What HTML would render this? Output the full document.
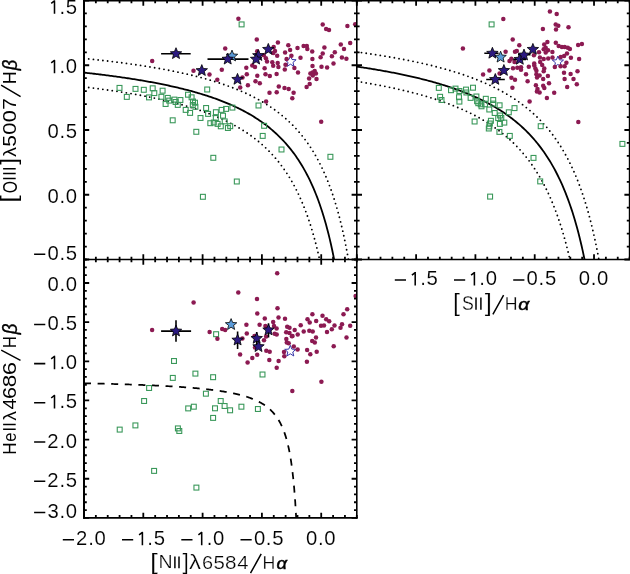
<!DOCTYPE html>
<html><head><meta charset="utf-8"><style>html,body{margin:0;padding:0;background:#fff;overflow:hidden}svg{display:block}text{vector-effect:non-scaling-stroke}</style></head><body>
<svg width="630" height="574" viewBox="0 0 630 574"><rect width="630" height="574" fill="#fff"/><clipPath id="c1"><rect x="84" y="0.5" width="272.8" height="259"/></clipPath><clipPath id="c2"><rect x="356.8" y="0.5" width="272.8" height="259"/></clipPath><clipPath id="c3"><rect x="84" y="259.5" width="272.8" height="258.4"/></clipPath><g fill="none" stroke="#000" stroke-width="1.8" clip-path="url(#c1)"><path d="M84 72.63 L85.25 72.76 L86.51 72.9 L87.76 73.04 L89.01 73.18 L90.27 73.33 L91.52 73.47 L92.77 73.61 L94.03 73.76 L95.28 73.91 L96.53 74.06 L97.79 74.21 L99.04 74.36 L100.29 74.51 L101.55 74.66 L102.8 74.82 L104.05 74.98 L105.31 75.14 L106.56 75.29 L107.81 75.46 L109.07 75.62 L110.32 75.78 L111.57 75.95 L112.83 76.12 L114.08 76.29 L115.33 76.46 L116.58 76.63 L117.84 76.8 L119.09 76.98 L120.34 77.16 L121.6 77.34 L122.85 77.52 L124.1 77.7 L125.36 77.88 L126.61 78.07 L127.86 78.26 L129.12 78.45 L130.37 78.64 L131.62 78.83 L132.88 79.03 L134.13 79.23 L135.38 79.43 L136.64 79.63 L137.89 79.84 L139.14 80.04 L140.4 80.25 L141.65 80.46 L142.9 80.68 L144.16 80.89 L145.41 81.11 L146.66 81.33 L147.92 81.55 L149.17 81.78 L150.42 82 L151.68 82.23 L152.93 82.47 L154.18 82.7 L155.44 82.94 L156.69 83.18 L157.94 83.42 L159.2 83.67 L160.45 83.92 L161.7 84.17 L162.96 84.43 L164.21 84.68 L165.46 84.94 L166.72 85.21 L167.97 85.48 L169.22 85.75 L170.48 86.02 L171.73 86.3 L172.98 86.58 L174.23 86.86 L175.49 87.15 L176.74 87.44 L177.99 87.74 L179.25 88.03 L180.5 88.34 L181.75 88.64 L183.01 88.95 L184.26 89.27 L185.51 89.58 L186.77 89.91 L188.02 90.23 L189.27 90.57 L190.53 90.9 L191.78 91.24 L193.03 91.59 L194.29 91.94 L195.54 92.29 L196.79 92.65 L198.05 93.01 L199.3 93.38 L200.55 93.76 L201.81 94.14 L203.06 94.52 L204.31 94.91 L205.57 95.31 L206.82 95.71 L208.07 96.12 L209.33 96.54 L210.58 96.96 L211.83 97.38 L213.09 97.82 L214.34 98.26 L215.59 98.71 L216.85 99.16 L218.1 99.62 L219.35 100.09 L220.61 100.57 L221.86 101.05 L223.11 101.54 L224.37 102.04 L225.62 102.55 L226.87 103.07 L228.13 103.6 L229.38 104.13 L230.63 104.67 L231.89 105.23 L233.14 105.79 L234.39 106.36 L235.64 106.95 L236.9 107.54 L238.15 108.14 L239.4 108.76 L240.66 109.38 L241.91 110.02 L243.16 110.67 L244.42 111.33 L245.67 112.01 L246.92 112.7 L248.18 113.4 L249.43 114.11 L250.68 114.84 L251.94 115.59 L253.19 116.34 L254.44 117.12 L255.7 117.91 L256.95 118.72 L258.2 119.54 L259.46 120.38 L260.71 121.24 L261.96 122.12 L263.22 123.02 L264.47 123.93 L265.72 124.87 L266.98 125.83 L268.23 126.81 L269.48 127.82 L270.74 128.85 L271.99 129.9 L273.24 130.98 L274.5 132.08 L275.75 133.22 L277 134.38 L278.26 135.57 L279.51 136.79 L280.76 138.04 L282.02 139.33 L283.27 140.65 L284.52 142 L285.78 143.39 L287.03 144.83 L288.28 146.3 L289.54 147.81 L290.79 149.37 L292.04 150.98 L293.3 152.63 L294.55 154.33 L295.8 156.09 L297.05 157.9 L298.31 159.77 L299.56 161.69 L300.81 163.69 L302.07 165.75 L303.32 167.87 L304.57 170.08 L305.83 172.36 L307.08 174.72 L308.33 177.17 L309.59 179.71 L310.84 182.34 L312.09 185.08 L313.35 187.93 L314.6 190.89 L315.85 193.97 L317.11 197.18 L318.36 200.53 L319.61 204.02 L320.87 207.67 L322.12 211.49 L323.37 215.48 L324.63 219.67 L325.88 224.06 L327.13 228.67 L328.39 233.52 L329.64 238.63 L330.89 244.02 L332.15 249.71 L333.4 255.72 L334.65 262.09"/><path d="M84 58.43 L85.32 58.57 L86.65 58.7 L87.97 58.84 L89.3 58.98 L90.62 59.11 L91.95 59.25 L93.27 59.4 L94.59 59.54 L95.92 59.68 L97.24 59.83 L98.57 59.97 L99.89 60.12 L101.22 60.27 L102.54 60.42 L103.86 60.57 L105.19 60.73 L106.51 60.88 L107.84 61.04 L109.16 61.2 L110.49 61.36 L111.81 61.52 L113.13 61.68 L114.46 61.84 L115.78 62.01 L117.11 62.18 L118.43 62.35 L119.75 62.52 L121.08 62.69 L122.4 62.86 L123.73 63.04 L125.05 63.22 L126.38 63.4 L127.7 63.58 L129.02 63.76 L130.35 63.94 L131.67 64.13 L133 64.32 L134.32 64.51 L135.65 64.7 L136.97 64.9 L138.29 65.09 L139.62 65.29 L140.94 65.49 L142.27 65.7 L143.59 65.9 L144.92 66.11 L146.24 66.32 L147.56 66.53 L148.89 66.75 L150.21 66.96 L151.54 67.18 L152.86 67.4 L154.19 67.63 L155.51 67.85 L156.83 68.08 L158.16 68.31 L159.48 68.55 L160.81 68.79 L162.13 69.03 L163.46 69.27 L164.78 69.51 L166.1 69.76 L167.43 70.02 L168.75 70.27 L170.08 70.53 L171.4 70.79 L172.73 71.05 L174.05 71.32 L175.37 71.59 L176.7 71.86 L178.02 72.14 L179.35 72.42 L180.67 72.71 L181.99 73 L183.32 73.29 L184.64 73.58 L185.97 73.88 L187.29 74.19 L188.62 74.49 L189.94 74.81 L191.26 75.12 L192.59 75.44 L193.91 75.77 L195.24 76.09 L196.56 76.43 L197.89 76.77 L199.21 77.11 L200.53 77.46 L201.86 77.81 L203.18 78.17 L204.51 78.53 L205.83 78.9 L207.16 79.27 L208.48 79.65 L209.8 80.03 L211.13 80.42 L212.45 80.82 L213.78 81.22 L215.1 81.63 L216.43 82.04 L217.75 82.46 L219.07 82.89 L220.4 83.32 L221.72 83.77 L223.05 84.21 L224.37 84.67 L225.7 85.13 L227.02 85.6 L228.34 86.08 L229.67 86.56 L230.99 87.06 L232.32 87.56 L233.64 88.07 L234.97 88.59 L236.29 89.12 L237.61 89.66 L238.94 90.21 L240.26 90.76 L241.59 91.33 L242.91 91.91 L244.24 92.5 L245.56 93.09 L246.88 93.7 L248.21 94.33 L249.53 94.96 L250.86 95.61 L252.18 96.26 L253.5 96.93 L254.83 97.62 L256.15 98.32 L257.48 99.03 L258.8 99.76 L260.13 100.5 L261.45 101.25 L262.77 102.03 L264.1 102.82 L265.42 103.62 L266.75 104.45 L268.07 105.29 L269.4 106.15 L270.72 107.03 L272.04 107.93 L273.37 108.85 L274.69 109.79 L276.02 110.75 L277.34 111.74 L278.67 112.75 L279.99 113.78 L281.31 114.84 L282.64 115.93 L283.96 117.05 L285.29 118.19 L286.61 119.36 L287.94 120.56 L289.26 121.8 L290.58 123.07 L291.91 124.37 L293.23 125.71 L294.56 127.09 L295.88 128.5 L297.21 129.96 L298.53 131.46 L299.85 133.01 L301.18 134.6 L302.5 136.24 L303.83 137.93 L305.15 139.67 L306.48 141.47 L307.8 143.33 L309.12 145.25 L310.45 147.24 L311.77 149.29 L313.1 151.42 L314.42 153.62 L315.74 155.9 L317.07 158.27 L318.39 160.73 L319.72 163.28 L321.04 165.92 L322.37 168.68 L323.69 171.54 L325.01 174.53 L326.34 177.64 L327.66 180.89 L328.99 184.28 L330.31 187.82 L331.64 191.53 L332.96 195.41 L334.28 199.49 L335.61 203.76 L336.93 208.25 L338.26 212.98 L339.58 217.97 L340.91 223.22 L342.23 228.78 L343.55 234.66 L344.88 240.9 L346.2 247.52 L347.53 254.57 L348.85 262.09" stroke-dasharray="0 4.75" stroke-linecap="round" stroke-width="1.85"/><path d="M84 86.93 L85.18 87.07 L86.36 87.21 L87.54 87.35 L88.72 87.5 L89.9 87.64 L91.08 87.79 L92.27 87.94 L93.45 88.09 L94.63 88.24 L95.81 88.39 L96.99 88.54 L98.17 88.7 L99.35 88.85 L100.53 89.01 L101.71 89.17 L102.89 89.33 L104.07 89.49 L105.25 89.65 L106.44 89.82 L107.62 89.98 L108.8 90.15 L109.98 90.32 L111.16 90.49 L112.34 90.66 L113.52 90.84 L114.7 91.01 L115.88 91.19 L117.06 91.37 L118.24 91.55 L119.42 91.73 L120.61 91.92 L121.79 92.1 L122.97 92.29 L124.15 92.48 L125.33 92.67 L126.51 92.86 L127.69 93.06 L128.87 93.26 L130.05 93.46 L131.23 93.66 L132.41 93.86 L133.59 94.07 L134.78 94.27 L135.96 94.48 L137.14 94.7 L138.32 94.91 L139.5 95.13 L140.68 95.34 L141.86 95.57 L143.04 95.79 L144.22 96.01 L145.4 96.24 L146.58 96.47 L147.76 96.71 L148.95 96.94 L150.13 97.18 L151.31 97.42 L152.49 97.66 L153.67 97.91 L154.85 98.16 L156.03 98.41 L157.21 98.66 L158.39 98.92 L159.57 99.18 L160.75 99.45 L161.93 99.71 L163.11 99.98 L164.3 100.25 L165.48 100.53 L166.66 100.81 L167.84 101.09 L169.02 101.38 L170.2 101.67 L171.38 101.96 L172.56 102.26 L173.74 102.56 L174.92 102.86 L176.1 103.17 L177.28 103.48 L178.47 103.8 L179.65 104.12 L180.83 104.44 L182.01 104.77 L183.19 105.1 L184.37 105.44 L185.55 105.78 L186.73 106.12 L187.91 106.47 L189.09 106.83 L190.27 107.19 L191.45 107.55 L192.64 107.92 L193.82 108.3 L195 108.68 L196.18 109.06 L197.36 109.45 L198.54 109.85 L199.72 110.25 L200.9 110.66 L202.08 111.07 L203.26 111.49 L204.44 111.91 L205.62 112.35 L206.81 112.78 L207.99 113.23 L209.17 113.68 L210.35 114.14 L211.53 114.6 L212.71 115.08 L213.89 115.56 L215.07 116.05 L216.25 116.54 L217.43 117.04 L218.61 117.56 L219.79 118.08 L220.98 118.6 L222.16 119.14 L223.34 119.69 L224.52 120.24 L225.7 120.81 L226.88 121.38 L228.06 121.96 L229.24 122.56 L230.42 123.16 L231.6 123.78 L232.78 124.4 L233.96 125.04 L235.14 125.69 L236.33 126.35 L237.51 127.03 L238.69 127.71 L239.87 128.41 L241.05 129.12 L242.23 129.85 L243.41 130.59 L244.59 131.34 L245.77 132.11 L246.95 132.9 L248.13 133.7 L249.31 134.51 L250.5 135.35 L251.68 136.2 L252.86 137.07 L254.04 137.96 L255.22 138.86 L256.4 139.79 L257.58 140.74 L258.76 141.7 L259.94 142.69 L261.12 143.7 L262.3 144.74 L263.48 145.8 L264.67 146.88 L265.85 147.99 L267.03 149.13 L268.21 150.29 L269.39 151.49 L270.57 152.71 L271.75 153.96 L272.93 155.25 L274.11 156.57 L275.29 157.92 L276.47 159.31 L277.65 160.74 L278.84 162.2 L280.02 163.71 L281.2 165.26 L282.38 166.86 L283.56 168.5 L284.74 170.18 L285.92 171.92 L287.1 173.71 L288.28 175.56 L289.46 177.46 L290.64 179.43 L291.82 181.46 L293.01 183.55 L294.19 185.71 L295.37 187.95 L296.55 190.27 L297.73 192.66 L298.91 195.14 L300.09 197.71 L301.27 200.38 L302.45 203.15 L303.63 206.02 L304.81 209 L305.99 212.11 L307.17 215.34 L308.36 218.71 L309.54 222.21 L310.72 225.88 L311.9 229.7 L313.08 233.7 L314.26 237.88 L315.44 242.26 L316.62 246.86 L317.8 251.68 L318.98 256.75 L320.16 262.09" stroke-dasharray="0 4.75" stroke-linecap="round" stroke-width="1.85"/></g><g fill="none" stroke="#000" stroke-width="1.8" clip-path="url(#c2)"><path d="M356.8 66.59 L357.94 66.76 L359.08 66.93 L360.22 67.1 L361.37 67.27 L362.51 67.44 L363.65 67.62 L364.79 67.79 L365.93 67.97 L367.07 68.15 L368.21 68.33 L369.35 68.51 L370.5 68.69 L371.64 68.88 L372.78 69.07 L373.92 69.26 L375.06 69.45 L376.2 69.64 L377.34 69.83 L378.48 70.03 L379.63 70.22 L380.77 70.42 L381.91 70.62 L383.05 70.83 L384.19 71.03 L385.33 71.24 L386.47 71.45 L387.61 71.66 L388.76 71.87 L389.9 72.08 L391.04 72.3 L392.18 72.52 L393.32 72.74 L394.46 72.96 L395.6 73.19 L396.74 73.41 L397.89 73.64 L399.03 73.87 L400.17 74.11 L401.31 74.34 L402.45 74.58 L403.59 74.82 L404.73 75.07 L405.87 75.31 L407.02 75.56 L408.16 75.81 L409.3 76.06 L410.44 76.32 L411.58 76.58 L412.72 76.84 L413.86 77.1 L415 77.37 L416.15 77.64 L417.29 77.91 L418.43 78.19 L419.57 78.47 L420.71 78.75 L421.85 79.03 L422.99 79.32 L424.13 79.61 L425.28 79.9 L426.42 80.2 L427.56 80.5 L428.7 80.8 L429.84 81.11 L430.98 81.42 L432.12 81.74 L433.26 82.05 L434.41 82.38 L435.55 82.7 L436.69 83.03 L437.83 83.36 L438.97 83.7 L440.11 84.04 L441.25 84.39 L442.39 84.74 L443.54 85.09 L444.68 85.45 L445.82 85.81 L446.96 86.17 L448.1 86.55 L449.24 86.92 L450.38 87.3 L451.52 87.69 L452.67 88.08 L453.81 88.47 L454.95 88.87 L456.09 89.28 L457.23 89.69 L458.37 90.1 L459.51 90.53 L460.65 90.95 L461.8 91.39 L462.94 91.82 L464.08 92.27 L465.22 92.72 L466.36 93.18 L467.5 93.64 L468.64 94.11 L469.78 94.59 L470.93 95.07 L472.07 95.56 L473.21 96.06 L474.35 96.56 L475.49 97.07 L476.63 97.59 L477.77 98.12 L478.91 98.65 L480.06 99.2 L481.2 99.75 L482.34 100.31 L483.48 100.88 L484.62 101.45 L485.76 102.04 L486.9 102.63 L488.04 103.24 L489.19 103.85 L490.33 104.48 L491.47 105.11 L492.61 105.75 L493.75 106.41 L494.89 107.08 L496.03 107.75 L497.17 108.44 L498.32 109.14 L499.46 109.85 L500.6 110.58 L501.74 111.32 L502.88 112.07 L504.02 112.83 L505.16 113.61 L506.3 114.4 L507.45 115.21 L508.59 116.03 L509.73 116.87 L510.87 117.72 L512.01 118.59 L513.15 119.47 L514.29 120.38 L515.43 121.3 L516.58 122.23 L517.72 123.19 L518.86 124.17 L520 125.17 L521.14 126.18 L522.28 127.22 L523.42 128.28 L524.56 129.36 L525.71 130.47 L526.85 131.6 L527.99 132.75 L529.13 133.93 L530.27 135.14 L531.41 136.37 L532.55 137.64 L533.69 138.93 L534.84 140.25 L535.98 141.6 L537.12 142.99 L538.26 144.41 L539.4 145.86 L540.54 147.36 L541.68 148.88 L542.82 150.45 L543.97 152.06 L545.11 153.71 L546.25 155.41 L547.39 157.15 L548.53 158.94 L549.67 160.77 L550.81 162.66 L551.95 164.61 L553.1 166.61 L554.24 168.66 L555.38 170.78 L556.52 172.97 L557.66 175.22 L558.8 177.54 L559.94 179.94 L561.08 182.41 L562.23 184.96 L563.37 187.6 L564.51 190.32 L565.65 193.14 L566.79 196.06 L567.93 199.09 L569.07 202.22 L570.21 205.47 L571.36 208.84 L572.5 212.34 L573.64 215.98 L574.78 219.76 L575.92 223.7 L577.06 227.8 L578.2 232.08 L579.34 236.54 L580.49 241.19 L581.63 246.06 L582.77 251.16 L583.91 256.49 L585.05 262.09"/><path d="M356.8 51.98 L358.01 52.14 L359.23 52.31 L360.44 52.47 L361.65 52.64 L362.86 52.81 L364.08 52.98 L365.29 53.15 L366.5 53.33 L367.71 53.5 L368.93 53.68 L370.14 53.86 L371.35 54.04 L372.57 54.22 L373.78 54.4 L374.99 54.59 L376.2 54.77 L377.42 54.96 L378.63 55.15 L379.84 55.34 L381.06 55.54 L382.27 55.73 L383.48 55.93 L384.69 56.13 L385.91 56.33 L387.12 56.53 L388.33 56.73 L389.54 56.94 L390.76 57.15 L391.97 57.36 L393.18 57.57 L394.4 57.79 L395.61 58 L396.82 58.22 L398.03 58.44 L399.25 58.67 L400.46 58.89 L401.67 59.12 L402.89 59.35 L404.1 59.58 L405.31 59.81 L406.52 60.05 L407.74 60.29 L408.95 60.53 L410.16 60.78 L411.37 61.02 L412.59 61.27 L413.8 61.53 L415.01 61.78 L416.23 62.04 L417.44 62.3 L418.65 62.56 L419.86 62.83 L421.08 63.1 L422.29 63.37 L423.5 63.64 L424.72 63.92 L425.93 64.2 L427.14 64.49 L428.35 64.77 L429.57 65.06 L430.78 65.36 L431.99 65.65 L433.2 65.96 L434.42 66.26 L435.63 66.57 L436.84 66.88 L438.06 67.19 L439.27 67.51 L440.48 67.83 L441.69 68.16 L442.91 68.49 L444.12 68.82 L445.33 69.16 L446.55 69.51 L447.76 69.85 L448.97 70.2 L450.18 70.56 L451.4 70.92 L452.61 71.28 L453.82 71.65 L455.03 72.03 L456.25 72.4 L457.46 72.79 L458.67 73.18 L459.89 73.57 L461.1 73.97 L462.31 74.37 L463.52 74.78 L464.74 75.2 L465.95 75.62 L467.16 76.05 L468.38 76.48 L469.59 76.92 L470.8 77.36 L472.01 77.81 L473.23 78.27 L474.44 78.74 L475.65 79.21 L476.86 79.68 L478.08 80.17 L479.29 80.66 L480.5 81.16 L481.72 81.67 L482.93 82.18 L484.14 82.7 L485.35 83.23 L486.57 83.77 L487.78 84.32 L488.99 84.87 L490.21 85.44 L491.42 86.01 L492.63 86.59 L493.84 87.18 L495.06 87.78 L496.27 88.39 L497.48 89.02 L498.69 89.65 L499.91 90.29 L501.12 90.94 L502.33 91.61 L503.55 92.28 L504.76 92.97 L505.97 93.67 L507.18 94.38 L508.4 95.11 L509.61 95.84 L510.82 96.59 L512.04 97.36 L513.25 98.14 L514.46 98.93 L515.67 99.74 L516.89 100.57 L518.1 101.41 L519.31 102.26 L520.52 103.14 L521.74 104.03 L522.95 104.94 L524.16 105.86 L525.38 106.81 L526.59 107.77 L527.8 108.76 L529.01 109.77 L530.23 110.8 L531.44 111.85 L532.65 112.92 L533.86 114.02 L535.08 115.14 L536.29 116.28 L537.5 117.46 L538.72 118.66 L539.93 119.89 L541.14 121.14 L542.35 122.43 L543.57 123.75 L544.78 125.1 L545.99 126.48 L547.21 127.9 L548.42 129.36 L549.63 130.85 L550.84 132.38 L552.06 133.95 L553.27 135.56 L554.48 137.22 L555.69 138.92 L556.91 140.67 L558.12 142.48 L559.33 144.33 L560.55 146.23 L561.76 148.19 L562.97 150.22 L564.18 152.3 L565.4 154.45 L566.61 156.66 L567.82 158.94 L569.04 161.3 L570.25 163.74 L571.46 166.26 L572.67 168.86 L573.89 171.56 L575.1 174.35 L576.31 177.24 L577.52 180.23 L578.74 183.34 L579.95 186.57 L581.16 189.92 L582.38 193.4 L583.59 197.02 L584.8 200.79 L586.01 204.72 L587.23 208.82 L588.44 213.1 L589.65 217.57 L590.87 222.24 L592.08 227.13 L593.29 232.26 L594.5 237.64 L595.72 243.29 L596.93 249.23 L598.14 255.49 L599.35 262.09" stroke-dasharray="0 4.75" stroke-linecap="round" stroke-width="1.85"/><path d="M356.8 81.35 L357.87 81.52 L358.94 81.69 L360 81.87 L361.07 82.04 L362.14 82.22 L363.21 82.4 L364.28 82.58 L365.35 82.76 L366.41 82.94 L367.48 83.13 L368.55 83.31 L369.62 83.5 L370.69 83.69 L371.76 83.88 L372.82 84.07 L373.89 84.27 L374.96 84.46 L376.03 84.66 L377.1 84.86 L378.17 85.06 L379.23 85.26 L380.3 85.47 L381.37 85.67 L382.44 85.88 L383.51 86.09 L384.58 86.3 L385.64 86.52 L386.71 86.73 L387.78 86.95 L388.85 87.17 L389.92 87.39 L390.99 87.62 L392.05 87.84 L393.12 88.07 L394.19 88.3 L395.26 88.53 L396.33 88.77 L397.4 89.01 L398.46 89.24 L399.53 89.49 L400.6 89.73 L401.67 89.98 L402.74 90.23 L403.81 90.48 L404.87 90.73 L405.94 90.99 L407.01 91.25 L408.08 91.51 L409.15 91.77 L410.22 92.04 L411.28 92.31 L412.35 92.58 L413.42 92.86 L414.49 93.13 L415.56 93.41 L416.63 93.7 L417.69 93.98 L418.76 94.27 L419.83 94.57 L420.9 94.86 L421.97 95.16 L423.03 95.47 L424.1 95.77 L425.17 96.08 L426.24 96.39 L427.31 96.71 L428.38 97.03 L429.44 97.35 L430.51 97.68 L431.58 98.01 L432.65 98.34 L433.72 98.68 L434.79 99.02 L435.85 99.37 L436.92 99.72 L437.99 100.07 L439.06 100.43 L440.13 100.79 L441.2 101.16 L442.26 101.53 L443.33 101.91 L444.4 102.29 L445.47 102.67 L446.54 103.06 L447.61 103.46 L448.67 103.86 L449.74 104.26 L450.81 104.67 L451.88 105.09 L452.95 105.51 L454.02 105.93 L455.08 106.36 L456.15 106.8 L457.22 107.24 L458.29 107.69 L459.36 108.15 L460.43 108.61 L461.49 109.07 L462.56 109.54 L463.63 110.02 L464.7 110.51 L465.77 111 L466.84 111.5 L467.9 112.01 L468.97 112.52 L470.04 113.04 L471.11 113.57 L472.18 114.11 L473.25 114.65 L474.31 115.2 L475.38 115.76 L476.45 116.33 L477.52 116.91 L478.59 117.49 L479.66 118.09 L480.72 118.69 L481.79 119.3 L482.86 119.93 L483.93 120.56 L485 121.2 L486.06 121.85 L487.13 122.51 L488.2 123.19 L489.27 123.87 L490.34 124.57 L491.41 125.28 L492.47 126 L493.54 126.73 L494.61 127.47 L495.68 128.23 L496.75 129 L497.82 129.78 L498.88 130.58 L499.95 131.39 L501.02 132.21 L502.09 133.05 L503.16 133.91 L504.23 134.78 L505.29 135.67 L506.36 136.57 L507.43 137.5 L508.5 138.44 L509.57 139.39 L510.64 140.37 L511.7 141.36 L512.77 142.38 L513.84 143.42 L514.91 144.47 L515.98 145.55 L517.05 146.65 L518.11 147.78 L519.18 148.92 L520.25 150.1 L521.32 151.29 L522.39 152.52 L523.46 153.77 L524.52 155.05 L525.59 156.35 L526.66 157.69 L527.73 159.06 L528.8 160.46 L529.87 161.89 L530.93 163.36 L532 164.87 L533.07 166.41 L534.14 167.98 L535.21 169.6 L536.28 171.26 L537.34 172.97 L538.41 174.71 L539.48 176.51 L540.55 178.35 L541.62 180.24 L542.69 182.18 L543.75 184.18 L544.82 186.24 L545.89 188.35 L546.96 190.53 L548.03 192.77 L549.1 195.08 L550.16 197.45 L551.23 199.91 L552.3 202.44 L553.37 205.05 L554.44 207.74 L555.5 210.53 L556.57 213.4 L557.64 216.38 L558.71 219.46 L559.78 222.65 L560.85 225.95 L561.91 229.38 L562.98 232.93 L564.05 236.62 L565.12 240.45 L566.19 244.44 L567.26 248.58 L568.32 252.9 L569.39 257.4 L570.46 262.09" stroke-dasharray="0 4.75" stroke-linecap="round" stroke-width="1.85"/></g><g fill="none" stroke="#000" stroke-width="1.75" clip-path="url(#c3)"><path d="M84 383.26 L85.06 383.28 L86.12 383.31 L87.18 383.33 L88.25 383.35 L89.31 383.38 L90.37 383.4 L91.43 383.43 L92.49 383.45 L93.55 383.48 L94.61 383.5 L95.68 383.53 L96.74 383.55 L97.8 383.58 L98.86 383.6 L99.92 383.63 L100.98 383.66 L102.04 383.68 L103.11 383.71 L104.17 383.74 L105.23 383.77 L106.29 383.8 L107.35 383.82 L108.41 383.85 L109.47 383.88 L110.53 383.91 L111.6 383.94 L112.66 383.97 L113.72 384 L114.78 384.03 L115.84 384.06 L116.9 384.1 L117.96 384.13 L119.03 384.16 L120.09 384.19 L121.15 384.23 L122.21 384.26 L123.27 384.29 L124.33 384.33 L125.39 384.36 L126.46 384.4 L127.52 384.43 L128.58 384.47 L129.64 384.5 L130.7 384.54 L131.76 384.58 L132.82 384.62 L133.89 384.65 L134.95 384.69 L136.01 384.73 L137.07 384.77 L138.13 384.81 L139.19 384.85 L140.25 384.89 L141.32 384.93 L142.38 384.98 L143.44 385.02 L144.5 385.06 L145.56 385.11 L146.62 385.15 L147.68 385.2 L148.74 385.24 L149.81 385.29 L150.87 385.33 L151.93 385.38 L152.99 385.43 L154.05 385.48 L155.11 385.53 L156.17 385.58 L157.24 385.63 L158.3 385.68 L159.36 385.74 L160.42 385.79 L161.48 385.84 L162.54 385.9 L163.6 385.95 L164.67 386.01 L165.73 386.07 L166.79 386.13 L167.85 386.19 L168.91 386.25 L169.97 386.31 L171.03 386.37 L172.1 386.43 L173.16 386.5 L174.22 386.56 L175.28 386.63 L176.34 386.7 L177.4 386.77 L178.46 386.84 L179.53 386.91 L180.59 386.98 L181.65 387.05 L182.71 387.13 L183.77 387.2 L184.83 387.28 L185.89 387.36 L186.95 387.44 L188.02 387.52 L189.08 387.61 L190.14 387.69 L191.2 387.78 L192.26 387.87 L193.32 387.96 L194.38 388.05 L195.45 388.14 L196.51 388.24 L197.57 388.33 L198.63 388.43 L199.69 388.53 L200.75 388.64 L201.81 388.74 L202.88 388.85 L203.94 388.96 L205 389.07 L206.06 389.19 L207.12 389.31 L208.18 389.43 L209.24 389.55 L210.31 389.67 L211.37 389.8 L212.43 389.93 L213.49 390.07 L214.55 390.2 L215.61 390.35 L216.67 390.49 L217.74 390.64 L218.8 390.79 L219.86 390.94 L220.92 391.1 L221.98 391.27 L223.04 391.43 L224.1 391.61 L225.17 391.78 L226.23 391.97 L227.29 392.15 L228.35 392.34 L229.41 392.54 L230.47 392.75 L231.53 392.96 L232.59 393.17 L233.66 393.39 L234.72 393.62 L235.78 393.86 L236.84 394.1 L237.9 394.35 L238.96 394.61 L240.02 394.88 L241.09 395.16 L242.15 395.45 L243.21 395.74 L244.27 396.05 L245.33 396.37 L246.39 396.7 L247.45 397.04 L248.52 397.4 L249.58 397.77 L250.64 398.16 L251.7 398.56 L252.76 398.97 L253.82 399.41 L254.88 399.86 L255.95 400.34 L257.01 400.84 L258.07 401.36 L259.13 401.9 L260.19 402.47 L261.25 403.07 L262.31 403.7 L263.38 404.36 L264.44 405.06 L265.5 405.8 L266.56 406.58 L267.62 407.41 L268.68 408.28 L269.74 409.21 L270.8 410.21 L271.87 411.26 L272.93 412.39 L273.99 413.61 L275.05 414.91 L276.11 416.31 L277.17 417.82 L278.23 419.46 L279.3 421.25 L280.36 423.19 L281.42 425.32 L282.48 427.67 L283.54 430.26 L284.6 433.14 L285.66 436.36 L286.73 439.99 L287.79 444.09 L288.85 448.79 L289.91 454.21 L290.97 460.54 L292.03 468.03 L293.09 477.01 L294.16 488 L295.22 501.76 L296.28 519.47" stroke-dasharray="7 6.6"/></g><g clip-path="url(#c1)"><g fill="none" stroke="#3a985a" stroke-width="1.1"><rect x="117.05" y="85.45" width="4.9" height="4.9"/><rect x="124.35" y="94.45" width="4.9" height="4.9"/><rect x="133.05" y="86.45" width="4.9" height="4.9"/><rect x="141.35" y="87.35" width="4.9" height="4.9"/><rect x="150.25" y="85.85" width="4.9" height="4.9"/><rect x="151.85" y="90.65" width="4.9" height="4.9"/><rect x="146.55" y="94.95" width="4.9" height="4.9"/><rect x="160.15" y="88.25" width="4.9" height="4.9"/><rect x="158.95" y="94.35" width="4.9" height="4.9"/><rect x="163.15" y="101.55" width="4.9" height="4.9"/><rect x="165.35" y="95.45" width="4.9" height="4.9"/><rect x="166.75" y="98.15" width="4.9" height="4.9"/><rect x="171.95" y="97.15" width="4.9" height="4.9"/><rect x="173.15" y="99.55" width="4.9" height="4.9"/><rect x="175.35" y="102.45" width="4.9" height="4.9"/><rect x="177.95" y="97.55" width="4.9" height="4.9"/><rect x="170.25" y="117.85" width="4.9" height="4.9"/><rect x="185.55" y="92.25" width="4.9" height="4.9"/><rect x="189.15" y="94.85" width="4.9" height="4.9"/><rect x="190.55" y="99.05" width="4.9" height="4.9"/><rect x="192.55" y="100.25" width="4.9" height="4.9"/><rect x="190.35" y="102.55" width="4.9" height="4.9"/><rect x="192.95" y="104.35" width="4.9" height="4.9"/><rect x="183.25" y="107.45" width="4.9" height="4.9"/><rect x="187.65" y="110.45" width="4.9" height="4.9"/><rect x="198.05" y="115.55" width="4.9" height="4.9"/><rect x="193.85" y="129.35" width="4.9" height="4.9"/><rect x="204.75" y="87.05" width="4.9" height="4.9"/><rect x="203.65" y="105.55" width="4.9" height="4.9"/><rect x="205.65" y="111.45" width="4.9" height="4.9"/><rect x="213.45" y="109.75" width="4.9" height="4.9"/><rect x="219.15" y="107.45" width="4.9" height="4.9"/><rect x="223.65" y="106.45" width="4.9" height="4.9"/><rect x="229.95" y="105.15" width="4.9" height="4.9"/><rect x="220.55" y="113.25" width="4.9" height="4.9"/><rect x="213.35" y="115.55" width="4.9" height="4.9"/><rect x="207.85" y="120.75" width="4.9" height="4.9"/><rect x="211.35" y="120.05" width="4.9" height="4.9"/><rect x="215.15" y="121.45" width="4.9" height="4.9"/><rect x="218.35" y="123.85" width="4.9" height="4.9"/><rect x="222.25" y="118.95" width="4.9" height="4.9"/><rect x="225.45" y="125.55" width="4.9" height="4.9"/><rect x="227.75" y="123.75" width="4.9" height="4.9"/><rect x="256.05" y="103.05" width="4.9" height="4.9"/><rect x="261.65" y="123.35" width="4.9" height="4.9"/><rect x="260.25" y="133.45" width="4.9" height="4.9"/><rect x="279.05" y="147.05" width="4.9" height="4.9"/><rect x="210.85" y="155.35" width="4.9" height="4.9"/><rect x="234.35" y="179.05" width="4.9" height="4.9"/><rect x="200.45" y="194.35" width="4.9" height="4.9"/><rect x="327.95" y="154.35" width="4.9" height="4.9"/><rect x="239.15" y="21.95" width="4.9" height="4.9"/><path d="M290.5 55.7 L292.03 59.5 L296.11 59.78 L292.97 62.4 L293.97 66.37 L290.5 64.2 L287.03 66.37 L288.03 62.4 L284.89 59.78 L288.97 59.5Z" fill="none" stroke="#3434a8" stroke-width="1.0"/></g><g fill="#8c1a52"><circle cx="152.2" cy="61" r="2.25"/><circle cx="193.5" cy="70.8" r="2.25"/><circle cx="209.5" cy="74.4" r="2.25"/><circle cx="221.8" cy="69.8" r="2.25"/><circle cx="217.3" cy="79.7" r="2.25"/><circle cx="225.2" cy="48.5" r="2.25"/><circle cx="238.4" cy="18.8" r="2.25"/><circle cx="242.5" cy="77.6" r="2.25"/><circle cx="240.2" cy="87.6" r="2.25"/><circle cx="246.3" cy="67.7" r="2.25"/><circle cx="246.8" cy="74.2" r="2.25"/><circle cx="247.9" cy="85.2" r="2.25"/><circle cx="252.3" cy="65.4" r="2.25"/><circle cx="255" cy="67" r="2.25"/><circle cx="256.8" cy="39.4" r="2.25"/><circle cx="257.2" cy="51.3" r="2.25"/><circle cx="257.3" cy="75.7" r="2.25"/><circle cx="255.5" cy="81.3" r="2.25"/><circle cx="259.8" cy="83.3" r="2.25"/><circle cx="263.7" cy="55.3" r="2.25"/><circle cx="265.9" cy="58.3" r="2.25"/><circle cx="267" cy="61.6" r="2.25"/><circle cx="264.6" cy="68.2" r="2.25"/><circle cx="265.5" cy="74.3" r="2.25"/><circle cx="269.8" cy="76.1" r="2.25"/><circle cx="272.3" cy="62.3" r="2.25"/><circle cx="273.2" cy="65.8" r="2.25"/><circle cx="277.7" cy="62.9" r="2.25"/><circle cx="278.4" cy="67" r="2.25"/><circle cx="276.6" cy="73.9" r="2.25"/><circle cx="273.7" cy="47" r="2.25"/><circle cx="275" cy="50.9" r="2.25"/><circle cx="273.3" cy="53.1" r="2.25"/><circle cx="277.2" cy="55.7" r="2.25"/><circle cx="277.9" cy="42.4" r="2.25"/><circle cx="288.3" cy="45.3" r="2.25"/><circle cx="290.1" cy="50.1" r="2.25"/><circle cx="285.1" cy="52.5" r="2.25"/><circle cx="291.4" cy="55.7" r="2.25"/><circle cx="286.6" cy="59" r="2.25"/><circle cx="285.5" cy="64.8" r="2.25"/><circle cx="284.8" cy="69.6" r="2.25"/><circle cx="294.4" cy="68.1" r="2.25"/><circle cx="298" cy="72.5" r="2.25"/><circle cx="288.7" cy="89" r="2.25"/><circle cx="293.6" cy="92.8" r="2.25"/><circle cx="292.3" cy="98.2" r="2.25"/><circle cx="284.5" cy="88" r="2.25"/><circle cx="278.8" cy="86.5" r="2.25"/><circle cx="269.5" cy="92.7" r="2.25"/><circle cx="276.7" cy="92.2" r="2.25"/><circle cx="266.1" cy="101.4" r="2.25"/><circle cx="297.5" cy="48" r="2.25"/><circle cx="303.6" cy="45.9" r="2.25"/><circle cx="306.8" cy="46.1" r="2.25"/><circle cx="307.3" cy="49" r="2.25"/><circle cx="312.2" cy="51.4" r="2.25"/><circle cx="322.7" cy="53.5" r="2.25"/><circle cx="320.6" cy="57.2" r="2.25"/><circle cx="324.4" cy="47.4" r="2.25"/><circle cx="300.5" cy="57.8" r="2.25"/><circle cx="312.4" cy="59" r="2.25"/><circle cx="331.9" cy="56.3" r="2.25"/><circle cx="334.8" cy="52.2" r="2.25"/><circle cx="340.8" cy="44.5" r="2.25"/><circle cx="344" cy="49" r="2.25"/><circle cx="350.2" cy="43" r="2.25"/><circle cx="341.9" cy="57.6" r="2.25"/><circle cx="346.4" cy="58.7" r="2.25"/><circle cx="322.7" cy="24.6" r="2.25"/><circle cx="326.1" cy="29.1" r="2.25"/><circle cx="329" cy="29.9" r="2.25"/><circle cx="347.4" cy="26" r="2.25"/><circle cx="355.2" cy="24.3" r="2.25"/><circle cx="312.5" cy="66.1" r="2.25"/><circle cx="321.5" cy="66.7" r="2.25"/><circle cx="327.1" cy="67.6" r="2.25"/><circle cx="333.5" cy="63.4" r="2.25"/><circle cx="310.4" cy="73.5" r="2.25"/><circle cx="314.7" cy="71" r="2.25"/><circle cx="312.6" cy="72.6" r="2.25"/><circle cx="315.9" cy="73.5" r="2.25"/><circle cx="312.8" cy="75.4" r="2.25"/><circle cx="309.1" cy="78.4" r="2.25"/><circle cx="316.5" cy="79.1" r="2.25"/><circle cx="309.7" cy="84" r="2.25"/><circle cx="306.6" cy="86.9" r="2.25"/><circle cx="321.2" cy="121.8" r="2.25"/></g><g stroke="#000" stroke-width="1.6" fill="none"><path d="M161.1 53.7H190.7"/><path d="M207.5 59.1H248.5"/></g><path d="M176 47.7 L177.55 51.56 L181.71 51.85 L178.51 54.52 L179.53 58.55 L176 56.34 L172.47 58.55 L173.49 54.52 L170.29 51.85 L174.45 51.56Z" fill="#2c1a80" stroke="#000" stroke-width="0.8" stroke-linejoin="miter"/><path d="M201.8 64.6 L203.35 68.46 L207.51 68.75 L204.31 71.42 L205.33 75.45 L201.8 73.24 L198.27 75.45 L199.29 71.42 L196.09 68.75 L200.25 68.46Z" fill="#2c1a80" stroke="#000" stroke-width="0.8" stroke-linejoin="miter"/><path d="M232 50.1 L233.55 53.96 L237.71 54.25 L234.51 56.92 L235.53 60.95 L232 58.74 L228.47 60.95 L229.49 56.92 L226.29 54.25 L230.45 53.96Z" fill="#5a9ad8" stroke="#000" stroke-width="0.8" stroke-linejoin="miter"/><path d="M227.7 53.2 L229.25 57.06 L233.41 57.35 L230.21 60.02 L231.23 64.05 L227.7 61.84 L224.17 64.05 L225.19 60.02 L221.99 57.35 L226.15 57.06Z" fill="#2c1a80" stroke="#000" stroke-width="0.8" stroke-linejoin="miter"/><path d="M237.5 73.4 L239.05 77.26 L243.21 77.55 L240.01 80.22 L241.03 84.25 L237.5 82.04 L233.97 84.25 L234.99 80.22 L231.79 77.55 L235.95 77.26Z" fill="#2c1a80" stroke="#000" stroke-width="0.8" stroke-linejoin="miter"/><path d="M258.3 49.6 L259.85 53.46 L264.01 53.75 L260.81 56.42 L261.83 60.45 L258.3 58.24 L254.77 60.45 L255.79 56.42 L252.59 53.75 L256.75 53.46Z" fill="#2c1a80" stroke="#000" stroke-width="0.8" stroke-linejoin="miter"/><path d="M256.1 53.2 L257.65 57.06 L261.81 57.35 L258.61 60.02 L259.63 64.05 L256.1 61.84 L252.57 64.05 L253.59 60.02 L250.39 57.35 L254.55 57.06Z" fill="#2c1a80" stroke="#000" stroke-width="0.8" stroke-linejoin="miter"/><path d="M268.3 43.4 L269.85 47.26 L274.01 47.55 L270.81 50.22 L271.83 54.25 L268.3 52.04 L264.77 54.25 L265.79 50.22 L262.59 47.55 L266.75 47.26Z" fill="#2c1a80" stroke="#000" stroke-width="0.8" stroke-linejoin="miter"/></g><g clip-path="url(#c2)"><g fill="none" stroke="#3a985a" stroke-width="1.1"><rect x="489.15" y="21.95" width="4.9" height="4.9"/><rect x="436.35" y="85.45" width="4.9" height="4.9"/><rect x="437.65" y="94.35" width="4.9" height="4.9"/><rect x="439.05" y="97.55" width="4.9" height="4.9"/><rect x="448.55" y="87.75" width="4.9" height="4.9"/><rect x="453.05" y="86.15" width="4.9" height="4.9"/><rect x="456.95" y="88.55" width="4.9" height="4.9"/><rect x="456.55" y="94.75" width="4.9" height="4.9"/><rect x="456.95" y="99.15" width="4.9" height="4.9"/><rect x="463.55" y="87.15" width="4.9" height="4.9"/><rect x="470.55" y="85.25" width="4.9" height="4.9"/><rect x="463.95" y="90.05" width="4.9" height="4.9"/><rect x="468.15" y="95.45" width="4.9" height="4.9"/><rect x="473.95" y="94.05" width="4.9" height="4.9"/><rect x="474.65" y="98.75" width="4.9" height="4.9"/><rect x="475.85" y="100.75" width="4.9" height="4.9"/><rect x="478.25" y="101.85" width="4.9" height="4.9"/><rect x="479.05" y="103.85" width="4.9" height="4.9"/><rect x="483.35" y="96.35" width="4.9" height="4.9"/><rect x="482.55" y="101.85" width="4.9" height="4.9"/><rect x="490.75" y="97.55" width="4.9" height="4.9"/><rect x="490.75" y="101.15" width="4.9" height="4.9"/><rect x="497.15" y="102.85" width="4.9" height="4.9"/><rect x="486.85" y="107.05" width="4.9" height="4.9"/><rect x="492.25" y="110.55" width="4.9" height="4.9"/><rect x="497.65" y="113.05" width="4.9" height="4.9"/><rect x="498.85" y="115.45" width="4.9" height="4.9"/><rect x="495.75" y="115.65" width="4.9" height="4.9"/><rect x="472.15" y="119.05" width="4.9" height="4.9"/><rect x="488.45" y="118.35" width="4.9" height="4.9"/><rect x="487.35" y="121.05" width="4.9" height="4.9"/><rect x="486.85" y="123.95" width="4.9" height="4.9"/><rect x="486.35" y="126.05" width="4.9" height="4.9"/><rect x="497.45" y="121.45" width="4.9" height="4.9"/><rect x="501.85" y="120.15" width="4.9" height="4.9"/><rect x="496.95" y="129.45" width="4.9" height="4.9"/><rect x="507.35" y="133.45" width="4.9" height="4.9"/><rect x="506.35" y="109.85" width="4.9" height="4.9"/><rect x="512.05" y="105.65" width="4.9" height="4.9"/><rect x="538.25" y="123.75" width="4.9" height="4.9"/><rect x="531.05" y="155.45" width="4.9" height="4.9"/><rect x="537.75" y="178.95" width="4.9" height="4.9"/><rect x="487.65" y="194.15" width="4.9" height="4.9"/><rect x="619.95" y="141.45" width="4.9" height="4.9"/><path d="M557.9 56 L559.43 59.8 L563.51 60.08 L560.37 62.7 L561.37 66.67 L557.9 64.5 L554.43 66.67 L555.43 62.7 L552.29 60.08 L556.37 59.8Z" fill="none" stroke="#3434a8" stroke-width="1.0"/></g><g fill="#8c1a52"><circle cx="462.9" cy="48.6" r="2.25"/><circle cx="489.4" cy="70.6" r="2.25"/><circle cx="483.1" cy="74.5" r="2.25"/><circle cx="499.6" cy="73.6" r="2.25"/><circle cx="503.3" cy="18.9" r="2.25"/><circle cx="512.7" cy="39.4" r="2.25"/><circle cx="519.3" cy="45.2" r="2.25"/><circle cx="505.6" cy="51.8" r="2.25"/><circle cx="515" cy="51.8" r="2.25"/><circle cx="516.8" cy="50.9" r="2.25"/><circle cx="509.5" cy="60.9" r="2.25"/><circle cx="511.4" cy="58.8" r="2.25"/><circle cx="514.5" cy="61.9" r="2.25"/><circle cx="513" cy="68.2" r="2.25"/><circle cx="517.3" cy="67.8" r="2.25"/><circle cx="521" cy="67.2" r="2.25"/><circle cx="521" cy="69.8" r="2.25"/><circle cx="511.4" cy="77.7" r="2.25"/><circle cx="515" cy="79.8" r="2.25"/><circle cx="526" cy="74.3" r="2.25"/><circle cx="528.8" cy="66.7" r="2.25"/><circle cx="527.6" cy="81.3" r="2.25"/><circle cx="512.4" cy="87.7" r="2.25"/><circle cx="529.6" cy="101.4" r="2.25"/><circle cx="549.9" cy="11.6" r="2.25"/><circle cx="556.7" cy="14" r="2.25"/><circle cx="555.7" cy="24.4" r="2.25"/><circle cx="558.3" cy="25.7" r="2.25"/><circle cx="556" cy="29.6" r="2.25"/><circle cx="568.5" cy="27.2" r="2.25"/><circle cx="542.9" cy="29" r="2.25"/><circle cx="533.9" cy="55.3" r="2.25"/><circle cx="539" cy="52.3" r="2.25"/><circle cx="547.4" cy="42" r="2.25"/><circle cx="544.2" cy="44.4" r="2.25"/><circle cx="545.7" cy="47.8" r="2.25"/><circle cx="543.7" cy="49.3" r="2.25"/><circle cx="548" cy="50.2" r="2.25"/><circle cx="552.4" cy="52.1" r="2.25"/><circle cx="545.7" cy="52.6" r="2.25"/><circle cx="539.9" cy="57.5" r="2.25"/><circle cx="543.7" cy="58.9" r="2.25"/><circle cx="548.2" cy="58.6" r="2.25"/><circle cx="552.5" cy="57.5" r="2.25"/><circle cx="540.2" cy="62" r="2.25"/><circle cx="555.8" cy="42.8" r="2.25"/><circle cx="558.7" cy="46.1" r="2.25"/><circle cx="561.9" cy="46.9" r="2.25"/><circle cx="564.7" cy="46.9" r="2.25"/><circle cx="567.8" cy="47.8" r="2.25"/><circle cx="569.9" cy="49.1" r="2.25"/><circle cx="578.1" cy="45.1" r="2.25"/><circle cx="581.9" cy="43.9" r="2.25"/><circle cx="567" cy="53.5" r="2.25"/><circle cx="564.1" cy="55.9" r="2.25"/><circle cx="560.7" cy="56.9" r="2.25"/><circle cx="570.9" cy="57.7" r="2.25"/><circle cx="579.1" cy="58.9" r="2.25"/><circle cx="566.4" cy="62.7" r="2.25"/><circle cx="564.6" cy="66.3" r="2.25"/><circle cx="560.6" cy="66.2" r="2.25"/><circle cx="554.8" cy="67" r="2.25"/><circle cx="577.5" cy="71.2" r="2.25"/><circle cx="564" cy="72.7" r="2.25"/><circle cx="570.6" cy="73.9" r="2.25"/><circle cx="573.5" cy="78.9" r="2.25"/><circle cx="576.8" cy="84.3" r="2.25"/><circle cx="534.2" cy="63.6" r="2.25"/><circle cx="542.2" cy="64.9" r="2.25"/><circle cx="534.3" cy="65.4" r="2.25"/><circle cx="535.4" cy="68.6" r="2.25"/><circle cx="536.4" cy="70.7" r="2.25"/><circle cx="544.3" cy="68.6" r="2.25"/><circle cx="543.7" cy="71.2" r="2.25"/><circle cx="536.4" cy="74.3" r="2.25"/><circle cx="539.6" cy="75.4" r="2.25"/><circle cx="537" cy="77.5" r="2.25"/><circle cx="547.9" cy="75.9" r="2.25"/><circle cx="543.2" cy="79" r="2.25"/><circle cx="549" cy="83.2" r="2.25"/><circle cx="535.9" cy="85.3" r="2.25"/><circle cx="543.2" cy="85.8" r="2.25"/><circle cx="544.3" cy="87.9" r="2.25"/><circle cx="537.5" cy="89" r="2.25"/><circle cx="536.9" cy="91.6" r="2.25"/><circle cx="539.6" cy="92.6" r="2.25"/><circle cx="554.2" cy="92.7" r="2.25"/><circle cx="546.9" cy="98" r="2.25"/><circle cx="567.2" cy="86.9" r="2.25"/><circle cx="564.6" cy="79" r="2.25"/><circle cx="578.3" cy="121.9" r="2.25"/></g><g stroke="#000" stroke-width="1.6" fill="none"><path d="M484.3 53.3H498.6"/><path d="M486.2 79.5H504.8"/><path d="M513.2 59.4H526"/><path d="M518 54.6H530.5"/></g><path d="M492.4 47.3 L493.95 51.16 L498.11 51.45 L494.91 54.12 L495.93 58.15 L492.4 55.94 L488.87 58.15 L489.89 54.12 L486.69 51.45 L490.85 51.16Z" fill="#2c1a80" stroke="#000" stroke-width="0.8" stroke-linejoin="miter"/><path d="M500.6 51.2 L502.15 55.06 L506.31 55.35 L503.11 58.02 L504.13 62.05 L500.6 59.84 L497.07 62.05 L498.09 58.02 L494.89 55.35 L499.05 55.06Z" fill="#5a9ad8" stroke="#000" stroke-width="0.8" stroke-linejoin="miter"/><path d="M503.9 64.5 L505.45 68.36 L509.61 68.65 L506.41 71.32 L507.43 75.35 L503.9 73.14 L500.37 75.35 L501.39 71.32 L498.19 68.65 L502.35 68.36Z" fill="#2c1a80" stroke="#000" stroke-width="0.8" stroke-linejoin="miter"/><path d="M495.3 73.5 L496.85 77.36 L501.01 77.65 L497.81 80.32 L498.83 84.35 L495.3 82.14 L491.77 84.35 L492.79 80.32 L489.59 77.65 L493.75 77.36Z" fill="#2c1a80" stroke="#000" stroke-width="0.8" stroke-linejoin="miter"/><path d="M519.8 53.4 L521.35 57.26 L525.51 57.55 L522.31 60.22 L523.33 64.25 L519.8 62.04 L516.27 64.25 L517.29 60.22 L514.09 57.55 L518.25 57.26Z" fill="#2c1a80" stroke="#000" stroke-width="0.8" stroke-linejoin="miter"/><path d="M524 49.1 L525.55 52.96 L529.71 53.25 L526.51 55.92 L527.53 59.95 L524 57.74 L520.47 59.95 L521.49 55.92 L518.29 53.25 L522.45 52.96Z" fill="#2c1a80" stroke="#000" stroke-width="0.8" stroke-linejoin="miter"/><path d="M532.9 43.4 L534.45 47.26 L538.61 47.55 L535.41 50.22 L536.43 54.25 L532.9 52.04 L529.37 54.25 L530.39 50.22 L527.19 47.55 L531.35 47.26Z" fill="#2c1a80" stroke="#000" stroke-width="0.8" stroke-linejoin="miter"/></g><g clip-path="url(#c3)"><g fill="none" stroke="#3a985a" stroke-width="1.1"><rect x="171.55" y="358.55" width="4.9" height="4.9"/><rect x="170.35" y="375.45" width="4.9" height="4.9"/><rect x="192.95" y="371.15" width="4.9" height="4.9"/><rect x="146.65" y="385.55" width="4.9" height="4.9"/><rect x="141.65" y="398.55" width="4.9" height="4.9"/><rect x="117.25" y="427.15" width="4.9" height="4.9"/><rect x="132.95" y="422.95" width="4.9" height="4.9"/><rect x="185.75" y="405.95" width="4.9" height="4.9"/><rect x="191.35" y="404.25" width="4.9" height="4.9"/><rect x="175.45" y="425.95" width="4.9" height="4.9"/><rect x="176.85" y="428.55" width="4.9" height="4.9"/><rect x="151.65" y="468.45" width="4.9" height="4.9"/><rect x="193.95" y="485.15" width="4.9" height="4.9"/><rect x="210.65" y="374.75" width="4.9" height="4.9"/><rect x="260.05" y="372.05" width="4.9" height="4.9"/><rect x="203.45" y="391.25" width="4.9" height="4.9"/><rect x="212.55" y="405.85" width="4.9" height="4.9"/><rect x="218.25" y="398.55" width="4.9" height="4.9"/><rect x="222.15" y="403.55" width="4.9" height="4.9"/><rect x="227.65" y="407.85" width="4.9" height="4.9"/><rect x="238.95" y="404.25" width="4.9" height="4.9"/><rect x="255.45" y="406.55" width="4.9" height="4.9"/><rect x="213.65" y="331.75" width="4.9" height="4.9"/><rect x="210.65" y="415.45" width="4.9" height="4.9"/><path d="M290.3 345.3 L291.83 349.1 L295.91 349.38 L292.77 352 L293.77 355.97 L290.3 353.8 L286.83 355.97 L287.83 352 L284.69 349.38 L288.77 349.1Z" fill="none" stroke="#3434a8" stroke-width="1.0"/></g><g fill="#8c1a52"><circle cx="152.1" cy="330" r="2.25"/><circle cx="193.6" cy="302.6" r="2.25"/><circle cx="209.6" cy="332.1" r="2.25"/><circle cx="217.4" cy="338.8" r="2.25"/><circle cx="238.3" cy="292.6" r="2.25"/><circle cx="257" cy="299" r="2.25"/><circle cx="277.5" cy="308.2" r="2.25"/><circle cx="257.3" cy="313.4" r="2.25"/><circle cx="264.8" cy="318.6" r="2.25"/><circle cx="278.5" cy="317.6" r="2.25"/><circle cx="246.4" cy="324.8" r="2.25"/><circle cx="259.6" cy="324.7" r="2.25"/><circle cx="265.4" cy="325.9" r="2.25"/><circle cx="273.2" cy="322" r="2.25"/><circle cx="274" cy="325.9" r="2.25"/><circle cx="276.6" cy="328.4" r="2.25"/><circle cx="222.2" cy="329.1" r="2.25"/><circle cx="225.2" cy="329.9" r="2.25"/><circle cx="246.8" cy="333.5" r="2.25"/><circle cx="242.4" cy="338.4" r="2.25"/><circle cx="254.5" cy="336" r="2.25"/><circle cx="264" cy="340.3" r="2.25"/><circle cx="266.1" cy="336.6" r="2.25"/><circle cx="274.6" cy="333.7" r="2.25"/><circle cx="276.7" cy="334.6" r="2.25"/><circle cx="255" cy="347.6" r="2.25"/><circle cx="266.3" cy="350.7" r="2.25"/><circle cx="269.7" cy="351.7" r="2.25"/><circle cx="240.1" cy="354.4" r="2.25"/><circle cx="257.2" cy="354.7" r="2.25"/><circle cx="252.3" cy="358" r="2.25"/><circle cx="269.3" cy="360.1" r="2.25"/><circle cx="278.6" cy="361" r="2.25"/><circle cx="276.7" cy="367.8" r="2.25"/><circle cx="284" cy="352.1" r="2.25"/><circle cx="284.3" cy="356.3" r="2.25"/><circle cx="293.8" cy="346.4" r="2.25"/><circle cx="297.6" cy="349.6" r="2.25"/><circle cx="307.1" cy="350" r="2.25"/><circle cx="310.3" cy="354.3" r="2.25"/><circle cx="316.7" cy="351.8" r="2.25"/><circle cx="306.9" cy="361.7" r="2.25"/><circle cx="316" cy="337.5" r="2.25"/><circle cx="312.2" cy="341.1" r="2.25"/><circle cx="314.8" cy="342.6" r="2.25"/><circle cx="286.3" cy="339" r="2.25"/><circle cx="286.8" cy="342.4" r="2.25"/><circle cx="291.9" cy="336.3" r="2.25"/><circle cx="321.4" cy="381.7" r="2.25"/><circle cx="292.3" cy="391.1" r="2.25"/><circle cx="247.6" cy="362.5" r="2.25"/><circle cx="277.2" cy="273.3" r="2.25"/><circle cx="355.6" cy="296.1" r="2.25"/><circle cx="347.2" cy="309.3" r="2.25"/><circle cx="343.5" cy="314.2" r="2.25"/><circle cx="312.4" cy="314.2" r="2.25"/><circle cx="322.5" cy="315.7" r="2.25"/><circle cx="326.2" cy="319.2" r="2.25"/><circle cx="329.2" cy="321.3" r="2.25"/><circle cx="307.5" cy="319.2" r="2.25"/><circle cx="309.7" cy="322.5" r="2.25"/><circle cx="316.2" cy="321" r="2.25"/><circle cx="285" cy="318.7" r="2.25"/><circle cx="300.7" cy="325.2" r="2.25"/><circle cx="321" cy="325.8" r="2.25"/><circle cx="324" cy="325.5" r="2.25"/><circle cx="334.5" cy="325.5" r="2.25"/><circle cx="342" cy="324.3" r="2.25"/><circle cx="350.2" cy="325.8" r="2.25"/><circle cx="340.5" cy="327.7" r="2.25"/><circle cx="331.8" cy="329.2" r="2.25"/><circle cx="287.2" cy="326.7" r="2.25"/><circle cx="289.5" cy="327.7" r="2.25"/><circle cx="294.7" cy="330" r="2.25"/><circle cx="286.2" cy="332.2" r="2.25"/><circle cx="289.5" cy="333" r="2.25"/><circle cx="297.7" cy="334.5" r="2.25"/><circle cx="303.7" cy="331.5" r="2.25"/><circle cx="309.3" cy="330.7" r="2.25"/><circle cx="312.7" cy="331.5" r="2.25"/><circle cx="327" cy="331.9" r="2.25"/><circle cx="292.5" cy="336" r="2.25"/><circle cx="288.7" cy="343.2" r="2.25"/><circle cx="346.5" cy="337.5" r="2.25"/><circle cx="333.7" cy="346.2" r="2.25"/></g><g stroke="#000" stroke-width="1.6" fill="none"><path d="M161.1 331.1H191.1"/><path d="M176 320.3V341.7"/><path d="M237.6 331.4V349"/><path d="M256.7 332.1V346"/><path d="M268.5 323.3V337.4"/></g><path d="M176 325.1 L177.55 328.96 L181.71 329.25 L178.51 331.92 L179.53 335.95 L176 333.74 L172.47 335.95 L173.49 331.92 L170.29 329.25 L174.45 328.96Z" fill="#2c1a80" stroke="#000" stroke-width="0.8" stroke-linejoin="miter"/><path d="M231.1 318.6 L232.65 322.46 L236.81 322.75 L233.61 325.42 L234.63 329.45 L231.1 327.24 L227.57 329.45 L228.59 325.42 L225.39 322.75 L229.55 322.46Z" fill="#5a9ad8" stroke="#000" stroke-width="0.8" stroke-linejoin="miter"/><path d="M237.6 334.1 L239.15 337.96 L243.31 338.25 L240.11 340.92 L241.13 344.95 L237.6 342.74 L234.07 344.95 L235.09 340.92 L231.89 338.25 L236.05 337.96Z" fill="#2c1a80" stroke="#000" stroke-width="0.8" stroke-linejoin="miter"/><path d="M256.7 332.4 L258.25 336.26 L262.41 336.55 L259.21 339.22 L260.23 343.25 L256.7 341.04 L253.17 343.25 L254.19 339.22 L250.99 336.55 L255.15 336.26Z" fill="#2c1a80" stroke="#000" stroke-width="0.8" stroke-linejoin="miter"/><path d="M258.5 340.7 L260.05 344.56 L264.21 344.85 L261.01 347.52 L262.03 351.55 L258.5 349.34 L254.97 351.55 L255.99 347.52 L252.79 344.85 L256.95 344.56Z" fill="#2c1a80" stroke="#000" stroke-width="0.8" stroke-linejoin="miter"/><path d="M268.5 324 L270.05 327.86 L274.21 328.15 L271.01 330.82 L272.03 334.85 L268.5 332.64 L264.97 334.85 L265.99 330.82 L262.79 328.15 L266.95 327.86Z" fill="#2c1a80" stroke="#000" stroke-width="0.8" stroke-linejoin="miter"/></g><g stroke="#000" fill="none"><path d="M84 259.5v-5.2M84 0.5v5.2" stroke-width="1.8"/><path d="M95.86 259.5v-2.8M95.86 0.5v2.8" stroke-width="1.8"/><path d="M107.72 259.5v-2.8M107.72 0.5v2.8" stroke-width="1.8"/><path d="M119.58 259.5v-2.8M119.58 0.5v2.8" stroke-width="1.8"/><path d="M131.44 259.5v-2.8M131.44 0.5v2.8" stroke-width="1.8"/><path d="M143.3 259.5v-5.2M143.3 0.5v5.2" stroke-width="1.8"/><path d="M155.17 259.5v-2.8M155.17 0.5v2.8" stroke-width="1.8"/><path d="M167.03 259.5v-2.8M167.03 0.5v2.8" stroke-width="1.8"/><path d="M178.89 259.5v-2.8M178.89 0.5v2.8" stroke-width="1.8"/><path d="M190.75 259.5v-2.8M190.75 0.5v2.8" stroke-width="1.8"/><path d="M202.61 259.5v-5.2M202.61 0.5v5.2" stroke-width="1.8"/><path d="M214.47 259.5v-2.8M214.47 0.5v2.8" stroke-width="1.8"/><path d="M226.33 259.5v-2.8M226.33 0.5v2.8" stroke-width="1.8"/><path d="M238.19 259.5v-2.8M238.19 0.5v2.8" stroke-width="1.8"/><path d="M250.05 259.5v-2.8M250.05 0.5v2.8" stroke-width="1.8"/><path d="M261.91 259.5v-5.2M261.91 0.5v5.2" stroke-width="1.8"/><path d="M273.77 259.5v-2.8M273.77 0.5v2.8" stroke-width="1.8"/><path d="M285.63 259.5v-2.8M285.63 0.5v2.8" stroke-width="1.8"/><path d="M297.5 259.5v-2.8M297.5 0.5v2.8" stroke-width="1.8"/><path d="M309.36 259.5v-2.8M309.36 0.5v2.8" stroke-width="1.8"/><path d="M321.22 259.5v-5.2M321.22 0.5v5.2" stroke-width="1.8"/><path d="M333.08 259.5v-2.8M333.08 0.5v2.8" stroke-width="1.8"/><path d="M344.94 259.5v-2.8M344.94 0.5v2.8" stroke-width="1.8"/><path d="M356.8 259.5v-2.8M356.8 0.5v2.8" stroke-width="1.8"/><path d="M84 259.5h5.2M356.8 259.5h-5.2" stroke-width="1.8"/><path d="M84 246.55h2.8M356.8 246.55h-2.8" stroke-width="1.8"/><path d="M84 233.6h2.8M356.8 233.6h-2.8" stroke-width="1.8"/><path d="M84 220.65h2.8M356.8 220.65h-2.8" stroke-width="1.8"/><path d="M84 207.7h2.8M356.8 207.7h-2.8" stroke-width="1.8"/><path d="M84 194.75h5.2M356.8 194.75h-5.2" stroke-width="1.8"/><path d="M84 181.8h2.8M356.8 181.8h-2.8" stroke-width="1.8"/><path d="M84 168.85h2.8M356.8 168.85h-2.8" stroke-width="1.8"/><path d="M84 155.9h2.8M356.8 155.9h-2.8" stroke-width="1.8"/><path d="M84 142.95h2.8M356.8 142.95h-2.8" stroke-width="1.8"/><path d="M84 130h5.2M356.8 130h-5.2" stroke-width="1.8"/><path d="M84 117.05h2.8M356.8 117.05h-2.8" stroke-width="1.8"/><path d="M84 104.1h2.8M356.8 104.1h-2.8" stroke-width="1.8"/><path d="M84 91.15h2.8M356.8 91.15h-2.8" stroke-width="1.8"/><path d="M84 78.2h2.8M356.8 78.2h-2.8" stroke-width="1.8"/><path d="M84 65.25h5.2M356.8 65.25h-5.2" stroke-width="1.8"/><path d="M84 52.3h2.8M356.8 52.3h-2.8" stroke-width="1.8"/><path d="M84 39.35h2.8M356.8 39.35h-2.8" stroke-width="1.8"/><path d="M84 26.4h2.8M356.8 26.4h-2.8" stroke-width="1.8"/><path d="M84 13.45h2.8M356.8 13.45h-2.8" stroke-width="1.8"/><path d="M84 0.5h5.2M356.8 0.5h-5.2" stroke-width="1.8"/><path d="M356.8 259.5v-5.2M356.8 0.5v5.2" stroke-width="1.8"/><path d="M368.66 259.5v-2.8M368.66 0.5v2.8" stroke-width="1.8"/><path d="M380.52 259.5v-2.8M380.52 0.5v2.8" stroke-width="1.8"/><path d="M392.38 259.5v-2.8M392.38 0.5v2.8" stroke-width="1.8"/><path d="M404.24 259.5v-2.8M404.24 0.5v2.8" stroke-width="1.8"/><path d="M416.1 259.5v-5.2M416.1 0.5v5.2" stroke-width="1.8"/><path d="M427.97 259.5v-2.8M427.97 0.5v2.8" stroke-width="1.8"/><path d="M439.83 259.5v-2.8M439.83 0.5v2.8" stroke-width="1.8"/><path d="M451.69 259.5v-2.8M451.69 0.5v2.8" stroke-width="1.8"/><path d="M463.55 259.5v-2.8M463.55 0.5v2.8" stroke-width="1.8"/><path d="M475.41 259.5v-5.2M475.41 0.5v5.2" stroke-width="1.8"/><path d="M487.27 259.5v-2.8M487.27 0.5v2.8" stroke-width="1.8"/><path d="M499.13 259.5v-2.8M499.13 0.5v2.8" stroke-width="1.8"/><path d="M510.99 259.5v-2.8M510.99 0.5v2.8" stroke-width="1.8"/><path d="M522.85 259.5v-2.8M522.85 0.5v2.8" stroke-width="1.8"/><path d="M534.71 259.5v-5.2M534.71 0.5v5.2" stroke-width="1.8"/><path d="M546.57 259.5v-2.8M546.57 0.5v2.8" stroke-width="1.8"/><path d="M558.43 259.5v-2.8M558.43 0.5v2.8" stroke-width="1.8"/><path d="M570.3 259.5v-2.8M570.3 0.5v2.8" stroke-width="1.8"/><path d="M582.16 259.5v-2.8M582.16 0.5v2.8" stroke-width="1.8"/><path d="M594.02 259.5v-5.2M594.02 0.5v5.2" stroke-width="1.8"/><path d="M605.88 259.5v-2.8M605.88 0.5v2.8" stroke-width="1.8"/><path d="M617.74 259.5v-2.8M617.74 0.5v2.8" stroke-width="1.8"/><path d="M629.6 259.5v-2.8M629.6 0.5v2.8" stroke-width="1.8"/><path d="M356.8 259.5h5.2M629.6 259.5h-5.2" stroke-width="1.8"/><path d="M356.8 246.55h2.8M629.6 246.55h-2.8" stroke-width="1.8"/><path d="M356.8 233.6h2.8M629.6 233.6h-2.8" stroke-width="1.8"/><path d="M356.8 220.65h2.8M629.6 220.65h-2.8" stroke-width="1.8"/><path d="M356.8 207.7h2.8M629.6 207.7h-2.8" stroke-width="1.8"/><path d="M356.8 194.75h5.2M629.6 194.75h-5.2" stroke-width="1.8"/><path d="M356.8 181.8h2.8M629.6 181.8h-2.8" stroke-width="1.8"/><path d="M356.8 168.85h2.8M629.6 168.85h-2.8" stroke-width="1.8"/><path d="M356.8 155.9h2.8M629.6 155.9h-2.8" stroke-width="1.8"/><path d="M356.8 142.95h2.8M629.6 142.95h-2.8" stroke-width="1.8"/><path d="M356.8 130h5.2M629.6 130h-5.2" stroke-width="1.8"/><path d="M356.8 117.05h2.8M629.6 117.05h-2.8" stroke-width="1.8"/><path d="M356.8 104.1h2.8M629.6 104.1h-2.8" stroke-width="1.8"/><path d="M356.8 91.15h2.8M629.6 91.15h-2.8" stroke-width="1.8"/><path d="M356.8 78.2h2.8M629.6 78.2h-2.8" stroke-width="1.8"/><path d="M356.8 65.25h5.2M629.6 65.25h-5.2" stroke-width="1.8"/><path d="M356.8 52.3h2.8M629.6 52.3h-2.8" stroke-width="1.8"/><path d="M356.8 39.35h2.8M629.6 39.35h-2.8" stroke-width="1.8"/><path d="M356.8 26.4h2.8M629.6 26.4h-2.8" stroke-width="1.8"/><path d="M356.8 13.45h2.8M629.6 13.45h-2.8" stroke-width="1.8"/><path d="M356.8 0.5h5.2M629.6 0.5h-5.2" stroke-width="1.8"/><path d="M84 517.9v-5.2M84 259.5v5.2" stroke-width="1.8"/><path d="M95.86 517.9v-2.8M95.86 259.5v2.8" stroke-width="1.8"/><path d="M107.72 517.9v-2.8M107.72 259.5v2.8" stroke-width="1.8"/><path d="M119.58 517.9v-2.8M119.58 259.5v2.8" stroke-width="1.8"/><path d="M131.44 517.9v-2.8M131.44 259.5v2.8" stroke-width="1.8"/><path d="M143.3 517.9v-5.2M143.3 259.5v5.2" stroke-width="1.8"/><path d="M155.17 517.9v-2.8M155.17 259.5v2.8" stroke-width="1.8"/><path d="M167.03 517.9v-2.8M167.03 259.5v2.8" stroke-width="1.8"/><path d="M178.89 517.9v-2.8M178.89 259.5v2.8" stroke-width="1.8"/><path d="M190.75 517.9v-2.8M190.75 259.5v2.8" stroke-width="1.8"/><path d="M202.61 517.9v-5.2M202.61 259.5v5.2" stroke-width="1.8"/><path d="M214.47 517.9v-2.8M214.47 259.5v2.8" stroke-width="1.8"/><path d="M226.33 517.9v-2.8M226.33 259.5v2.8" stroke-width="1.8"/><path d="M238.19 517.9v-2.8M238.19 259.5v2.8" stroke-width="1.8"/><path d="M250.05 517.9v-2.8M250.05 259.5v2.8" stroke-width="1.8"/><path d="M261.91 517.9v-5.2M261.91 259.5v5.2" stroke-width="1.8"/><path d="M273.77 517.9v-2.8M273.77 259.5v2.8" stroke-width="1.8"/><path d="M285.63 517.9v-2.8M285.63 259.5v2.8" stroke-width="1.8"/><path d="M297.5 517.9v-2.8M297.5 259.5v2.8" stroke-width="1.8"/><path d="M309.36 517.9v-2.8M309.36 259.5v2.8" stroke-width="1.8"/><path d="M321.22 517.9v-5.2M321.22 259.5v5.2" stroke-width="1.8"/><path d="M333.08 517.9v-2.8M333.08 259.5v2.8" stroke-width="1.8"/><path d="M344.94 517.9v-2.8M344.94 259.5v2.8" stroke-width="1.8"/><path d="M356.8 517.9v-2.8M356.8 259.5v2.8" stroke-width="1.8"/><path d="M84 517.9h5.2M356.8 517.9h-5.2" stroke-width="1.8"/><path d="M84 510.07h2.8M356.8 510.07h-2.8" stroke-width="1.8"/><path d="M84 502.24h2.8M356.8 502.24h-2.8" stroke-width="1.8"/><path d="M84 494.41h2.8M356.8 494.41h-2.8" stroke-width="1.8"/><path d="M84 486.58h2.8M356.8 486.58h-2.8" stroke-width="1.8"/><path d="M84 478.75h5.2M356.8 478.75h-5.2" stroke-width="1.8"/><path d="M84 470.92h2.8M356.8 470.92h-2.8" stroke-width="1.8"/><path d="M84 463.09h2.8M356.8 463.09h-2.8" stroke-width="1.8"/><path d="M84 455.26h2.8M356.8 455.26h-2.8" stroke-width="1.8"/><path d="M84 447.43h2.8M356.8 447.43h-2.8" stroke-width="1.8"/><path d="M84 439.6h5.2M356.8 439.6h-5.2" stroke-width="1.8"/><path d="M84 431.77h2.8M356.8 431.77h-2.8" stroke-width="1.8"/><path d="M84 423.94h2.8M356.8 423.94h-2.8" stroke-width="1.8"/><path d="M84 416.11h2.8M356.8 416.11h-2.8" stroke-width="1.8"/><path d="M84 408.28h2.8M356.8 408.28h-2.8" stroke-width="1.8"/><path d="M84 400.45h5.2M356.8 400.45h-5.2" stroke-width="1.8"/><path d="M84 392.62h2.8M356.8 392.62h-2.8" stroke-width="1.8"/><path d="M84 384.78h2.8M356.8 384.78h-2.8" stroke-width="1.8"/><path d="M84 376.95h2.8M356.8 376.95h-2.8" stroke-width="1.8"/><path d="M84 369.12h2.8M356.8 369.12h-2.8" stroke-width="1.8"/><path d="M84 361.29h5.2M356.8 361.29h-5.2" stroke-width="1.8"/><path d="M84 353.46h2.8M356.8 353.46h-2.8" stroke-width="1.8"/><path d="M84 345.63h2.8M356.8 345.63h-2.8" stroke-width="1.8"/><path d="M84 337.8h2.8M356.8 337.8h-2.8" stroke-width="1.8"/><path d="M84 329.97h2.8M356.8 329.97h-2.8" stroke-width="1.8"/><path d="M84 322.14h5.2M356.8 322.14h-5.2" stroke-width="1.8"/><path d="M84 314.31h2.8M356.8 314.31h-2.8" stroke-width="1.8"/><path d="M84 306.48h2.8M356.8 306.48h-2.8" stroke-width="1.8"/><path d="M84 298.65h2.8M356.8 298.65h-2.8" stroke-width="1.8"/><path d="M84 290.82h2.8M356.8 290.82h-2.8" stroke-width="1.8"/><path d="M84 282.99h5.2M356.8 282.99h-5.2" stroke-width="1.8"/><path d="M84 275.16h2.8M356.8 275.16h-2.8" stroke-width="1.8"/><path d="M84 267.33h2.8M356.8 267.33h-2.8" stroke-width="1.8"/><path d="M84 259.5h2.8M356.8 259.5h-2.8" stroke-width="1.8"/><path d="M84 0V518.8" stroke-width="2"/><path d="M83 0.5H630" stroke-width="2"/><path d="M83 517.85H357.6" stroke-width="1.9"/><path d="M629.6 0V260.3" stroke-width="1.6"/><path d="M356.8 0V518.8" stroke-width="1.6"/><path d="M83 259.5H630" stroke-width="1.6"/></g><g font-family="Liberation Sans, sans-serif" font-size="19.6" fill="#000" opacity="0.999"><g transform="scale(0.52,0.5)" font-size="39.0" stroke="#fff" stroke-width="0.12" vector-effect="non-scaling-stroke"><text x="126.52" y="27.60">5</text><text x="114.32" y="27.60">.</text><text x="126.55" y="146.60">0</text><text x="114.32" y="146.60">.</text><text x="126.52" y="276.00">5</text><text x="114.32" y="276.00">.</text><text x="91.36" y="276.00">0</text><text x="126.55" y="405.40">0</text><text x="114.32" y="405.40">.</text><text x="91.36" y="405.40">0</text><text x="126.52" y="519.60">5</text><text x="114.32" y="519.60">.</text><text x="91.36" y="519.60">0</text><text x="126.55" y="581.60">0</text><text x="114.32" y="581.60">.</text><text x="91.36" y="581.60">0</text><text x="126.52" y="660.00">5</text><text x="114.32" y="660.00">.</text><text x="91.36" y="660.00">0</text><text x="126.55" y="738.40">0</text><text x="114.32" y="738.40">.</text><text x="126.52" y="816.80">5</text><text x="114.32" y="816.80">.</text><text x="126.55" y="895.20">0</text><text x="114.32" y="895.20">.</text><text x="90.92" y="895.20">2</text><text x="126.52" y="973.60">5</text><text x="114.32" y="973.60">.</text><text x="90.92" y="973.60">2</text><text x="126.55" y="1036.20">0</text><text x="114.32" y="1036.20">.</text><text x="91.40" y="1036.20">3</text><text x="181.75" y="1090.60">0</text><text x="169.52" y="1090.60">.</text><text x="146.12" y="1090.60">2</text><text x="295.55" y="1090.60">5</text><text x="283.36" y="1090.60">.</text><text x="409.63" y="1090.60">0</text><text x="397.40" y="1090.60">.</text><text x="523.44" y="1090.60">5</text><text x="511.25" y="1090.60">.</text><text x="488.28" y="1090.60">0</text><text x="623.77" y="1090.60">0</text><text x="611.54" y="1090.60">.</text><text x="588.57" y="1090.60">0</text><text x="820.17" y="571.00">5</text><text x="807.98" y="571.00">.</text><text x="934.05" y="571.00">0</text><text x="921.82" y="571.00">.</text><text x="1047.86" y="571.00">5</text><text x="1035.67" y="571.00">.</text><text x="1012.71" y="571.00">0</text><text x="1148.19" y="571.00">0</text><text x="1135.96" y="571.00">.</text><text x="1113.00" y="571.00">0</text></g><path d="M54.50 0.40V13.80M54.80 0.60L51.20 3.40 M54.50 59.90V73.30M54.80 60.10L51.20 62.90 M34.10 254.20H45.30 M34.10 324.40H45.30 M54.50 355.80V369.20M54.80 356.00L51.20 358.80 M34.10 363.60H45.30 M54.50 395.00V408.40M54.80 395.20L51.20 398.00 M34.10 402.80H45.30 M34.10 442.00H45.30 M34.10 481.20H45.30 M34.10 512.50H45.30 M62.80 539.70H74.00 M142.40 531.90V545.30M142.70 532.10L139.10 534.90 M122.00 539.70H133.20 M201.70 531.90V545.30M202.00 532.10L198.40 534.90 M181.30 539.70H192.50 M240.50 539.70H251.70 M415.20 272.10V285.50M415.50 272.30L411.90 275.10 M394.80 279.90H406.00 M474.40 272.10V285.50M474.70 272.30L471.10 275.10 M454.00 279.90H465.20 M513.20 279.90H524.40" stroke="#000" stroke-width="1.55" fill="none"/><g stroke="#fff" stroke-width="0.25"><text transform="matrix(0.6290 0 0 0.5793 453.106 310.891)" font-size="40.0">[</text><text transform="matrix(0.4430 0 0 0.5049 461.995 310.403)" font-size="40.0">S</text><text transform="matrix(0.6416 0 0 0.5793 484.800 310.891)" font-size="40.0">]</text><text transform="matrix(0.4431 0 0 0.4506 504.746 309.700)" font-size="40.0">H</text><text transform="matrix(0.4870 0 0 0.3970 518.234 309.737)" font-size="40.0" font-style="italic" stroke="#000" stroke-width="0.5">α</text><text transform="matrix(0.7045 0 0 0.5579 150.091 568.769)" font-size="40.0">[</text><text transform="matrix(0.4878 0 0 0.4615 158.399 568.300)" font-size="40.0">N</text><text transform="matrix(0.5661 0 0 0.5579 182.423 568.769)" font-size="40.0">]</text><text transform="matrix(0.5987 0 0 0.4899 189.036 568.800)" font-size="40.0">λ</text><text transform="matrix(0.4985 0 0 0.4661 201.988 568.618)" font-size="40.0">6</text><text transform="matrix(0.5115 0 0 0.4622 213.381 568.619)" font-size="40.0">5</text><text transform="matrix(0.5168 0 0 0.4661 225.002 568.618)" font-size="40.0">8</text><text transform="matrix(0.5060 0 0 0.4579 237.135 568.500)" font-size="40.0">4</text><text transform="matrix(0.4431 0 0 0.4615 262.446 568.600)" font-size="40.0">H</text><text transform="matrix(0.4602 0 0 0.4153 276.571 568.630)" font-size="40.0" font-style="italic" stroke="#000" stroke-width="0.5">α</text></g><text transform="matrix(0 -0.6667 0.5552 0 16.392 202.701)" font-size="40.0">[</text><text transform="matrix(0 -0.3919 0.5014 0 16.604 193.342)" font-size="40.0">O</text><text transform="matrix(0 -0.5913 0.5552 0 16.392 164.785)" font-size="40.0">]</text><text transform="matrix(0 -0.5006 0.4692 0 16.200 156.937)" font-size="40.0">λ</text><text transform="matrix(0 -0.5220 0.4765 0 15.714 146.736)" font-size="40.0">5</text><text transform="matrix(0 -0.5491 0.4732 0 15.815 134.758)" font-size="40.0">0</text><text transform="matrix(0 -0.5439 0.4732 0 15.815 122.150)" font-size="40.0">0</text><text transform="matrix(0 -0.5169 0.4579 0 15.600 109.860)" font-size="40.0">7</text><text transform="matrix(0 -0.4476 0.4760 0 16.100 84.369)" font-size="40.0">H</text><text transform="matrix(0 -0.4595 0.4908 0 16.826 70.251)" font-size="40.0" font-style="italic" stroke="#000" stroke-width="0.35">β</text><text transform="matrix(0 -0.4252 0.4470 0 15.600 454.795)" font-size="40.0">H</text><text transform="matrix(0 -0.4156 0.4426 0 16.327 441.706)" font-size="40.0">e</text><text transform="matrix(0 -0.4852 0.4623 0 16.000 420.733)" font-size="40.0">λ</text><text transform="matrix(0 -0.4961 0.4579 0 15.700 409.555)" font-size="40.0">4</text><text transform="matrix(0 -0.5418 0.4732 0 15.815 399.101)" font-size="40.0">6</text><text transform="matrix(0 -0.5647 0.4732 0 15.815 387.282)" font-size="40.0">8</text><text transform="matrix(0 -0.6014 0.4732 0 15.815 375.222)" font-size="40.0">6</text><text transform="matrix(0 -0.4073 0.4688 0 16.000 348.036)" font-size="40.0">H</text><text transform="matrix(0 -0.4639 0.4881 0 16.648 334.347)" font-size="40.0" font-style="italic" stroke="#000" stroke-width="0.35">β</text><path d="M476 297.6V309.7 M480.9 297.6V309.7 M492.9 314.4L503.6 295.2 M174.9 556.6V568.3 M179 556.6V568.3 M250.5 573.2L261.2 553.8 M3.1 178.5H15.7 M3.1 173.5H15.7 M3.1 168.8H15.7 M20.6 96.6L1.1 85.2 M3.1 429.3H15.7 M3.1 424.5H15.7 M20.5 360.4L1.2 350.2" stroke="#000" stroke-width="1.5" fill="none"/></g></svg>
</body></html>
